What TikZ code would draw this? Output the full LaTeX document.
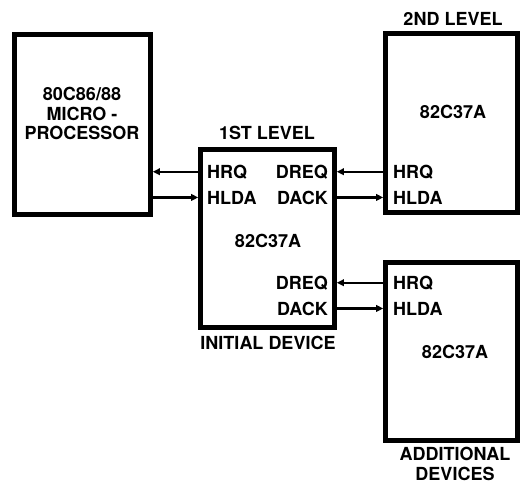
\documentclass[tikz,border=0pt]{standalone}
\usepackage{fontspec}
\setmainfont{TeX Gyre Heros}
\usetikzlibrary{arrows.meta, positioning}

\begin{document}
\begin{tikzpicture}[x=1pt, y=-1pt,
    chip/.style={draw, line width=4.6pt, inner sep=0pt},
    lbl/.style={font=\bfseries\fontsize{18}{19.5}\selectfont, inner sep=0pt},
    sig/.style={-{Triangle[length=7pt, width=6.5pt]}, line width=2.2pt},
]
\useasboundingbox (0,0) rectangle (521,483);

% Chips
\node[chip, minimum width=136pt, minimum height=180pt] (cpu) at (82.5,124.5) {};
\node[chip, minimum width=134pt, minimum height=178pt] (lvlone) at (267.5,238.5) {};
\node[chip, minimum width=132pt, minimum height=179pt] (lvltwo) at (451.5,123) {};
\node[chip, minimum width=132pt, minimum height=178pt] (addl) at (451.5,351.5) {};

% Titles
\node[lbl, anchor=base] (ttwo) at (453,25) {2ND LEVEL};
\node[lbl, anchor=base] (tone) at (267,139) {1ST LEVEL};
\node[lbl, anchor=base] (tinit) at (268,349) {INITIAL DEVICE};
\node[lbl, align=center] (tadd) at (455,464) {ADDITIONAL\\DEVICES};

% Chip names
\node[lbl, align=center] (cpuname) at (82,113.5) {80C86/88\\MICRO -\\PROCESSOR};
\node[lbl, anchor=base] (nameone) at (268,247) {82C37A};
\node[lbl, anchor=base] (nametwo) at (453,118) {82C37A};
\node[lbl, anchor=base] (nameadd) at (455,358) {82C37A};

% Pins of the initial device
\node[lbl, anchor=base west] (hrqone) at (207,178) {HRQ};
\node[lbl, anchor=base west] (hldaone) at (207,204) {HLDA};
\node[lbl, anchor=base east] (dreqone) at (328,178) {DREQ};
\node[lbl, anchor=base east] (dackone) at (328,204) {DACK};
\node[lbl, anchor=base east] (dreqlow) at (328,289) {DREQ};
\node[lbl, anchor=base east] (dacklow) at (328,315) {DACK};

% Pins of the cascaded devices
\node[lbl, anchor=base west] (hrqtwo) at (393,178) {HRQ};
\node[lbl, anchor=base west] (hldatwo) at (393,204) {HLDA};
\node[lbl, anchor=base west] (hrqadd) at (393,289) {HRQ};
\node[lbl, anchor=base west] (hldaadd) at (393,315) {HLDA};

% Signals
\draw[sig] (lvlone.west |- hrqone) -- (cpu.east |- hrqone);
\draw[sig] (cpu.east |- hldaone) -- (lvlone.west |- hldaone);
\draw[sig] (lvltwo.west |- hrqtwo) -- (lvlone.east |- hrqtwo);
\draw[sig] (lvlone.east |- dackone) -- (lvltwo.west |- dackone);
\draw[sig] (addl.west |- dreqlow) -- (lvlone.east |- dreqlow);
\draw[sig] (lvlone.east |- dacklow) -- (addl.west |- dacklow);

\end{tikzpicture}
\end{document}
